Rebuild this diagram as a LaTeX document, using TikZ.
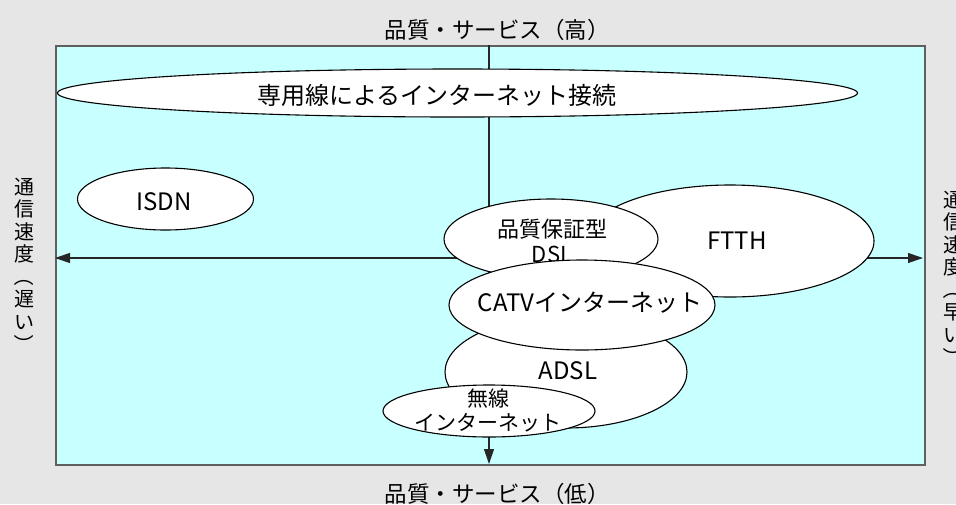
\documentclass[tikz,border=0pt]{standalone}
\usepackage{fontspec}
\setmainfont{Noto Sans CJK JP}
\usetikzlibrary{arrows.meta,shapes.geometric}
\definecolor{bgc}{RGB}{230,230,230}
\definecolor{panel}{RGB}{200,255,255}
\definecolor{framec}{RGB}{95,95,95}
\newcommand{\vlp}{\rotatebox[origin=c]{-90}{（}}
\newcommand{\vrp}{\rotatebox[origin=c]{-90}{）}}
\begin{document}
\begin{tikzpicture}[x=1pt,y=-1pt,
  blob/.style={ellipse,draw=black,fill=white,line width=1.1pt,inner sep=0pt},
  lbl/.style={font=\fontsize{22.5}{24}\selectfont,inner sep=0pt,align=center},
  big/.style={font=\fontsize{24}{26}\selectfont,inner sep=0pt,align=center},
  axisline/.style={line width=1.1pt,draw=black!85},
  tip/.style={-{Triangle[length=15pt,width=10pt]}},
  vtext/.style={font=\fontsize{20}{22.5}\selectfont,align=center,inner sep=0pt}]
% background and bounding box
\path[use as bounding box,fill=bgc] (0,0) rectangle (956,504);
% panel
\node[draw=framec,fill=panel,line width=2pt,minimum width=869pt,minimum height=419pt,
      inner sep=0pt,anchor=north west] (panel) at (55,45) {};
% axis end points
\coordinate (L) at (55,258);
\coordinate (R) at (923,258);
\coordinate (T) at (489,45);
\coordinate (B) at (489,464);
\draw[axisline,{Triangle[length=15pt,width=10pt]}-{Triangle[length=15pt,width=10pt]}] (L) -- (R);
\draw[axisline,tip] (T) -- (B);
% axis labels
\node[lbl] (hi) at (497,30) {品質・サービス（高）};
\node[lbl] (lo) at (497,494) {品質・サービス（低）};
\node[vtext] (slow) at (24,266) {通\\信\\速\\度\\\vlp\\遅\\い\\\vrp};
\node[vtext] (fast) at (953,279) {通\\信\\速\\度\\\vlp\\早\\い\\\vrp};
% ellipses
\node[blob,minimum width=800pt,minimum height=48pt] (leased) at (457.5,93) {};
\node[big] (leasedT) at (437,95) {専用線によるインターネット接続};
\node[blob,minimum width=176pt,minimum height=62pt] (isdn) at (165.5,199) {};
\node[big] (isdnT) at (164,202) {ISDN};
\node[blob,minimum width=288pt,minimum height=112pt] (ftth) at (730,241) {};
\node[big] (ftthT) at (737,241) {FTTH};
\node[blob,minimum width=214pt,minimum height=80pt] (dsl) at (551,239) {};
\node[lbl,font=\fontsize{22}{24.5}\selectfont] (dslT) at (552,241) {品質保証型\\DSL};
\node[blob,minimum width=242pt,minimum height=112pt] (adsl) at (566,372) {};
\node[big] (adslT) at (568,371) {ADSL};
\node[blob,minimum width=266pt,minimum height=90pt] (catv) at (582,305) {};
\node[big] (catvT) at (590,303) {CATVインターネット};
\node[blob,minimum width=212pt,minimum height=52pt] (wifi) at (489,411) {};
\node[lbl,font=\fontsize{21}{24}\selectfont] (wifiT) at (488,410) {無線\\インターネット};
\end{tikzpicture}
\end{document}
